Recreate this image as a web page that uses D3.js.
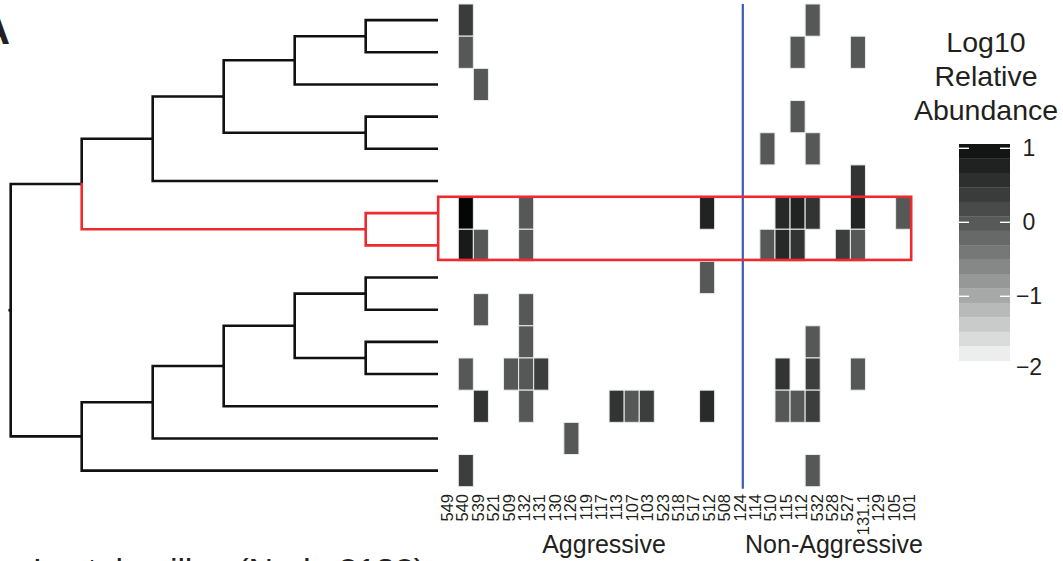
<!doctype html>
<html lang="en">
<head>
  <meta charset="utf-8">
  <title>Log10 Relative Abundance heatmap</title>
  <style>
   body {
       margin: 0;
       background-color: #fff;
   }
   svg text {
       font-family: "Liberation Sans", Arial, helvetica, sans-serif;
       fill: #231f20;
   }
   .cell {
       stroke: #ececec;
       stroke-width: 1;
   }
   .branch {
       fill: none;
       stroke-width: 2.6;
       stroke-linecap: square;
   }
  </style>
</head>
<body>
<svg id="chart" width="1063" height="561" xmlns="http://www.w3.org/2000/svg"></svg>
<script src="https://d3js.org/d3.v7.min.js"></script>
<script>

 // samples along the bottom, the first 20 are the aggressive ones
 var samples = ["549", "540", "539", "521", "509", "132", "131", "130", "126", "119",
                "117", "113", "107", "103", "523", "518", "517", "512", "508", "124",
                "114", "510", "115", "112", "532", "528", "527", "131.1", "129", "105", "101"];
 var nAggressive = 20;
 var groupNames = ["Aggressive", "Non-Aggressive"];

 // 15 taxa (rows), top to bottom, same order as the tree leaves
 var rows = d3.range(15);

 // tree, hclust style: negative = leaf number, positive = earlier merge
 var merges = [[-1, -2], [-7, -8], [-4, -5], [-9, -10], [-11, -12],
               [1, -3], [4, 5], [6, 3], [7, -13], [8, -6],
               [9, -14], [10, 2], [11, -15], [12, 13]];
 var mergeHeights = [1, 1, 1, 1, 1, 2, 2, 3, 3, 4, 4, 5, 5, 6];
 var highlightMerge = 2; // the red clade (rows 7 and 8)

 // non empty cells: [row, sample, log10 relative abundance]
 var cells = [
     [0, "540", 0.38], [0, "532", 0],
     [1, "540", 0], [1, "112", 0], [1, "131.1", 0],
     [2, "539", 0],
     [3, "112", 0],
     [4, "510", 0], [4, "532", 0],
     [5, "131.1", 0.5],
     [6, "540", 1.12], [6, "132", 0], [6, "512", 0.75], [6, "115", 0.65], [6, "112", 0.75],
     [6, "532", 0.5], [6, "131.1", 0.72], [6, "101", 0],
     [7, "540", 0.88], [7, "539", 0], [7, "132", 0], [7, "510", 0], [7, "115", 0.65],
     [7, "112", 0.5], [7, "527", 0.35], [7, "131.1", 0],
     [8, "512", 0],
     [9, "539", 0], [9, "132", 0],
     [10, "132", 0], [10, "532", 0],
     [11, "540", 0], [11, "509", 0], [11, "132", 0], [11, "131", 0.35], [11, "115", 0.5],
     [11, "532", 0.35], [11, "131.1", 0],
     [12, "539", 0.5], [12, "132", 0], [12, "113", 0.5], [12, "107", 0], [12, "103", 0.35],
     [12, "512", 0.62], [12, "115", 0], [12, "112", 0], [12, "532", 0.35],
     [13, "126", 0],
     [14, "540", 0.35], [14, "532", 0]
 ];

 var legendTicks = [1, 0, -1, -2];
 var legendRange = [1.058, -1.87];
 var legendBins = 15;
 var legendTitle = ["Log10", "Relative", "Abundance"];

 var svg = d3.select("#chart");

 var x = d3.scaleBand().domain(samples).range([443.2, 910.7]);
 var xLabel = d3.scaleBand().domain(samples).range([439.3, 916.7]);
 var y = d3.scaleBand().domain(rows).range([4, 486.7]);
 var h = d3.scaleLinear().domain([0, 6]).range([436.7, 10.7]);

 var color = d3.scaleLinear()
               .domain([0.96, -1.77])
               .range(["#131514", "#eceeed"])
               .interpolate(d3.interpolateLab);

 // heatmap
 svg.append("g")
    .selectAll("rect")
    .data(cells)
    .enter()
    .append("rect")
    .attr("class", "cell")
    .attr("x", function(d) { return x(d[1]); })
    .attr("y", function(d) { return y(d[0]); })
    .attr("width", x.bandwidth())
    .attr("height", y.bandwidth())
    .attr("fill", function(d) { return color(d[2]); });

 // column labels
 svg.append("g")
    .selectAll("text")
    .data(samples)
    .enter()
    .append("text")
    .attr("transform", function(d) {
        return "translate(" + (xLabel(d) + xLabel.bandwidth() / 2) + ",494) rotate(-90)";
    })
    .attr("text-anchor", "end")
    .attr("dominant-baseline", "central")
    .style("font-size", "16.5px")
    .text(function(d) { return d; });

 svg.append("text").attr("x", 604).attr("y", 553)
    .attr("text-anchor", "middle").style("font-size", "25px").text(groupNames[0]);
 svg.append("text").attr("x", 834).attr("y", 553)
    .attr("text-anchor", "middle").style("font-size", "25px").text(groupNames[1]);

 // separator between the two groups
 var sepX = x(samples[nAggressive]) - 2;
 svg.append("line")
    .attr("x1", sepX).attr("x2", sepX)
    .attr("y1", y.range()[0]).attr("y2", y.range()[1] + 2)
    .attr("stroke", "#3a5cb4")
    .attr("stroke-width", 2.2);

 // dendrogram node positions
 var nodes = {};
 function node(id) {
     if (id < 0) {
         var r = -id - 1;
         return {y: y(r) + y.bandwidth() / 2, h: 0};
     }
     return nodes[id];
 }
 var segs = [];
 merges.forEach(function(m, i) {
     var id = i + 1;
     var a = node(m[0]), b = node(m[1]);
     var mid = (a.y + b.y) / 2;
     nodes[id] = {y: mid, h: mergeHeights[i], red: id == highlightMerge};
     [a, b].forEach(function(c) {
         var red = nodes[id].red || c === nodes[highlightMerge];
         segs.push({x0: h(mergeHeights[i]), y0: mid, x1: h(c.h), y1: c.y, red: red});
     });
 });

 var tree = svg.append("g");
 tree.selectAll("path")
     .data(segs.slice().sort(function(a, b) { return a.red - b.red; }))
     .enter()
     .append("path")
     .attr("class", "branch")
     .attr("stroke", function(d) { return d.red ? "#ed2a2e" : "#111"; })
     .attr("d", function(d) {
         return "M" + d.x0 + "," + d.y0 + "V" + d.y1 + "H" + d.x1;
     });
 var root = nodes[merges.length];
 tree.append("path")
     .attr("class", "branch")
     .attr("stroke", "#111")
     .attr("stroke-width", 1.5)
     .attr("d", "M" + h(root.h) + "," + root.y + "h-1");

 // red box around the highlighted rows
 svg.append("rect")
    .attr("x", x.range()[0] - 5)
    .attr("y", y(6) - 0.3)
    .attr("width", x.range()[1] - x.range()[0] + 5.5)
    .attr("height", 2 * y.step() - 1.2)
    .attr("fill", "none")
    .attr("stroke", "#ed2a2e")
    .attr("stroke-width", 2.6);

 // panel letter and cut-off caption
 svg.append("text").attr("x", -5).attr("y", 44)
    .attr("text-anchor", "middle")
    .style("font-size", "42px").style("font-weight", "bold").text("A");
 svg.append("text").attr("x", 33).attr("y", 581.5)
    .attr("textLength", 392).attr("lengthAdjust", "spacing")
    .style("font-size", "34px").text("Lactobacillus (Node 2132)");

 // legend
 var ly = d3.scaleLinear().domain([1, 0]).range([148.3, 222.3]);
 var lx = 959, lw = 51;
 var step = (legendRange[0] - legendRange[1]) / legendBins;
 var bins = d3.range(legendBins).map(function(i) { return legendRange[0] - i * step; });
 var legend = svg.append("g");
 legend.selectAll("rect")
       .data(bins)
       .enter()
       .append("rect")
       .attr("x", lx)
       .attr("y", function(d) { return ly(d); })
       .attr("width", lw)
       .attr("height", function(d) { return ly(d - step) - ly(d) + 0.3; })
       .attr("fill", function(d) { return color(d - step / 2); });

 legend.selectAll("g.tick")
       .data(legendTicks.filter(function(t) { return t >= legendRange[1]; }))
       .enter()
       .append("g")
       .attr("class", "tick")
       .each(function(t) {
           var g = d3.select(this);
           g.append("line").attr("x1", lx).attr("x2", lx + 10)
            .attr("y1", ly(t)).attr("y2", ly(t))
            .attr("stroke", "#fff").attr("stroke-width", 1.4);
           g.append("line").attr("x1", lx + lw - 10).attr("x2", lx + lw)
            .attr("y1", ly(t)).attr("y2", ly(t))
            .attr("stroke", "#fff").attr("stroke-width", 1.4);
       });

 legend.selectAll("text.lab")
       .data(legendTicks)
       .enter()
       .append("text")
       .attr("class", "lab")
       .attr("x", 1029)
       .attr("y", function(t) { return t == -2 ? 367 : ly(t); })
       .attr("text-anchor", "middle")
       .attr("dominant-baseline", "central")
       .style("font-size", "23px")
       .text(function(t) { return t < 0 ? "\u2212" + (-t) : t; });

 legend.selectAll("text.title")
       .data(legendTitle)
       .enter()
       .append("text")
       .attr("class", "title")
       .attr("x", 986)
       .attr("y", function(d, i) { return 52 + i * 34; })
       .attr("text-anchor", "middle")
       .style("font-size", "28.5px")
       .text(function(d) { return d; });
</script>
</body>
</html>
